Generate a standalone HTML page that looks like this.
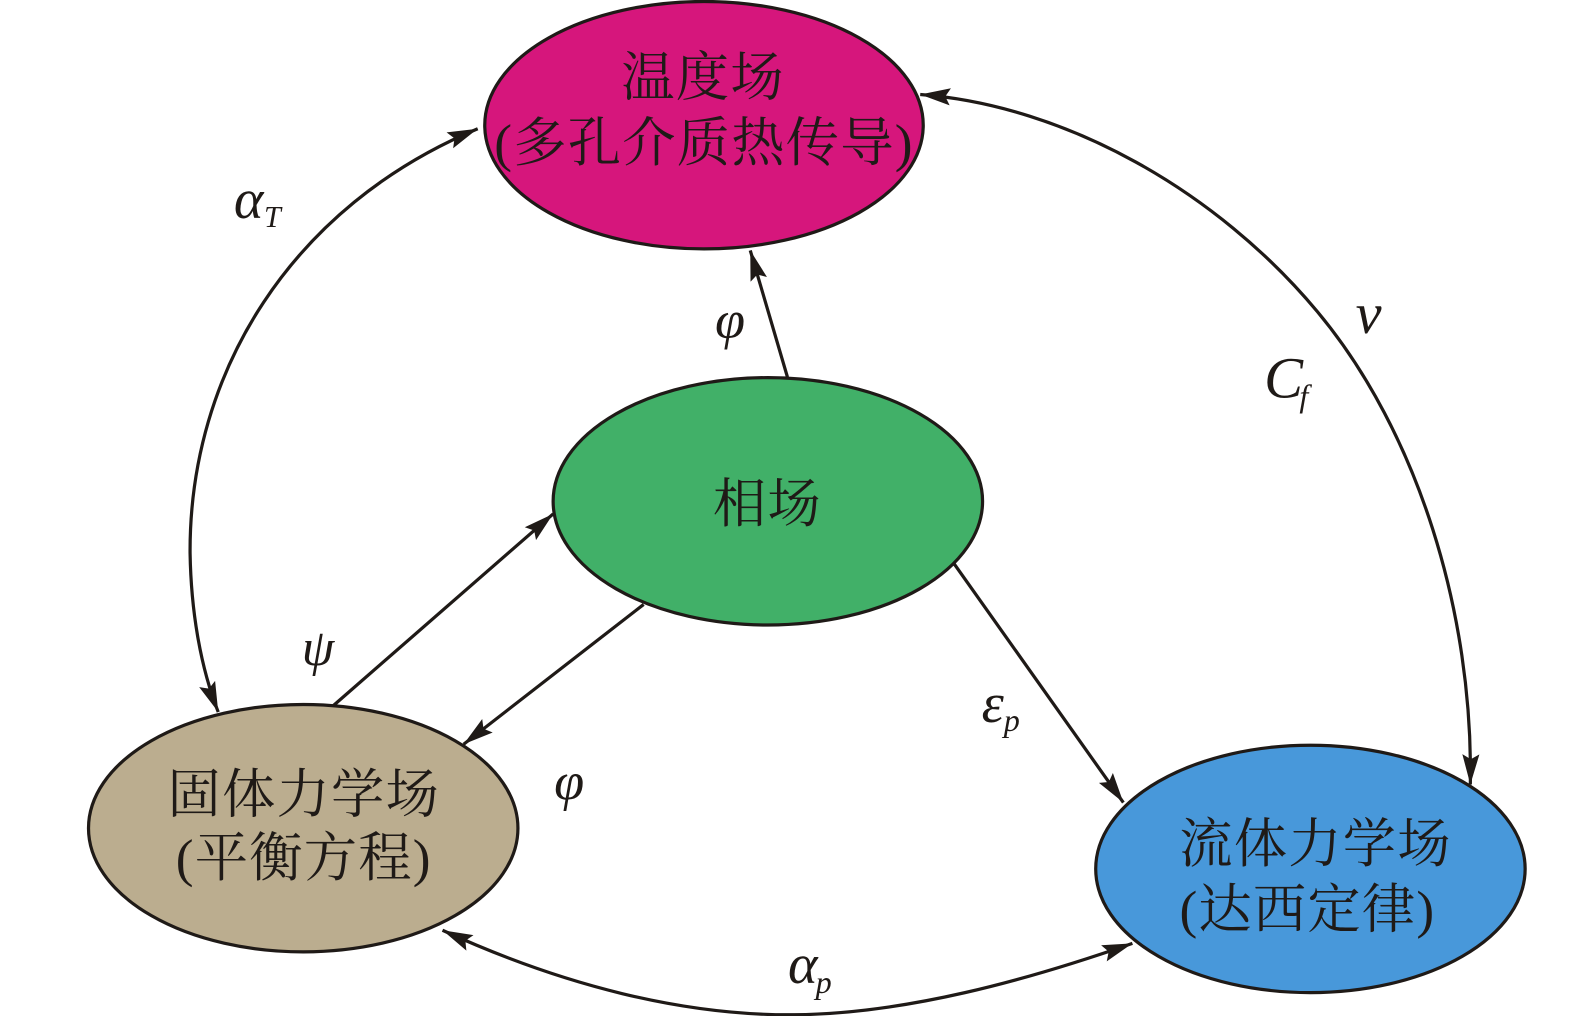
<!DOCTYPE html>
<html>
<head>
<meta charset="utf-8">
<style>
html,body{margin:0;padding:0;background:#fff;width:1575px;height:1016px;overflow:hidden}
svg{display:block}
.c{font-family:"Liberation Serif","Noto Serif CJK SC",serif;font-size:53px;letter-spacing:1.2px;fill:#1f1a17;text-anchor:middle}
.m{font-family:"Liberation Serif",serif;font-style:italic;fill:#1f1a17}
</style>
</head>
<body>
<svg width="1575" height="1016" viewBox="0 0 1575 1016" xmlns="http://www.w3.org/2000/svg">
<defs>
<marker id="a" markerUnits="userSpaceOnUse" markerWidth="32" markerHeight="22" refX="30" refY="11" orient="auto-start-reverse">
<path d="M0,2.5 L30,11 L0,19.5 L5,11 Z" fill="#1f1a17"/>
</marker>
</defs>
<g transform="scale(1.0057)">
<g fill="none" stroke="#1f1a17" stroke-width="3.2">
<ellipse cx="700" cy="124.5" rx="218" ry="123" fill="#d6167c"/>
<ellipse cx="763.5" cy="498.5" rx="213.5" ry="123" fill="#41b068"/>
<ellipse cx="301.5" cy="823.5" rx="213.5" ry="123" fill="#bbad8f"/>
<ellipse cx="1303" cy="864" rx="213.5" ry="123" fill="#4898da"/>
<path d="M475,128 C290,205 188,370 189,550 C190,610 200,665 217,708" marker-start="url(#a)" marker-end="url(#a)"/>
<path d="M915,94 C1060,105 1210,190 1310,310 C1410,430 1465,610 1462,780" marker-start="url(#a)" marker-end="url(#a)"/>
<path d="M783,375 L746,249" marker-end="url(#a)"/>
<path d="M331,702 L550,511" marker-end="url(#a)"/>
<path d="M640,601 L461,740" marker-end="url(#a)"/>
<path d="M949,561 L1117,798" marker-end="url(#a)"/>
<path d="M440,925 C560,980 680,1010 790,1009 C900,1008 1020,975 1126,938" marker-start="url(#a)" marker-end="url(#a)"/>
</g>
<text class="c" x="699" y="95">温度场</text>
<text class="c" x="700" y="160">(多孔介质热传导)</text>
<text class="c" x="763" y="519">相场</text>
<text class="c" x="302" y="808">固体力学场</text>
<text class="c" x="302" y="871">(平衡方程)</text>
<text class="c" x="1308" y="857">流体力学场</text>
<text class="c" x="1300" y="922">(达西定律)</text>
<text class="m" x="232.5" y="217" font-size="56">α</text>
<text class="m" x="262.5" y="225.5" font-size="30">T</text>
<text class="m" x="711" y="336" font-size="54">φ</text>
<text class="m" x="1348" y="331" font-size="58">v</text>
<text class="m" x="1257" y="395" font-size="58">C</text>
<text class="m" x="1292" y="404" font-size="32">f</text>
<text class="m" x="300" y="661" font-size="52">ψ</text>
<text class="m" x="551" y="795" font-size="54">φ</text>
<text class="m" x="976" y="718" font-size="56">ε</text>
<text class="m" x="998" y="727" font-size="32">p</text>
<text class="m" x="783.5" y="977.5" font-size="56">α</text>
<text class="m" x="811" y="987.5" font-size="32">p</text>
</g>
</svg>
</body>
</html>
